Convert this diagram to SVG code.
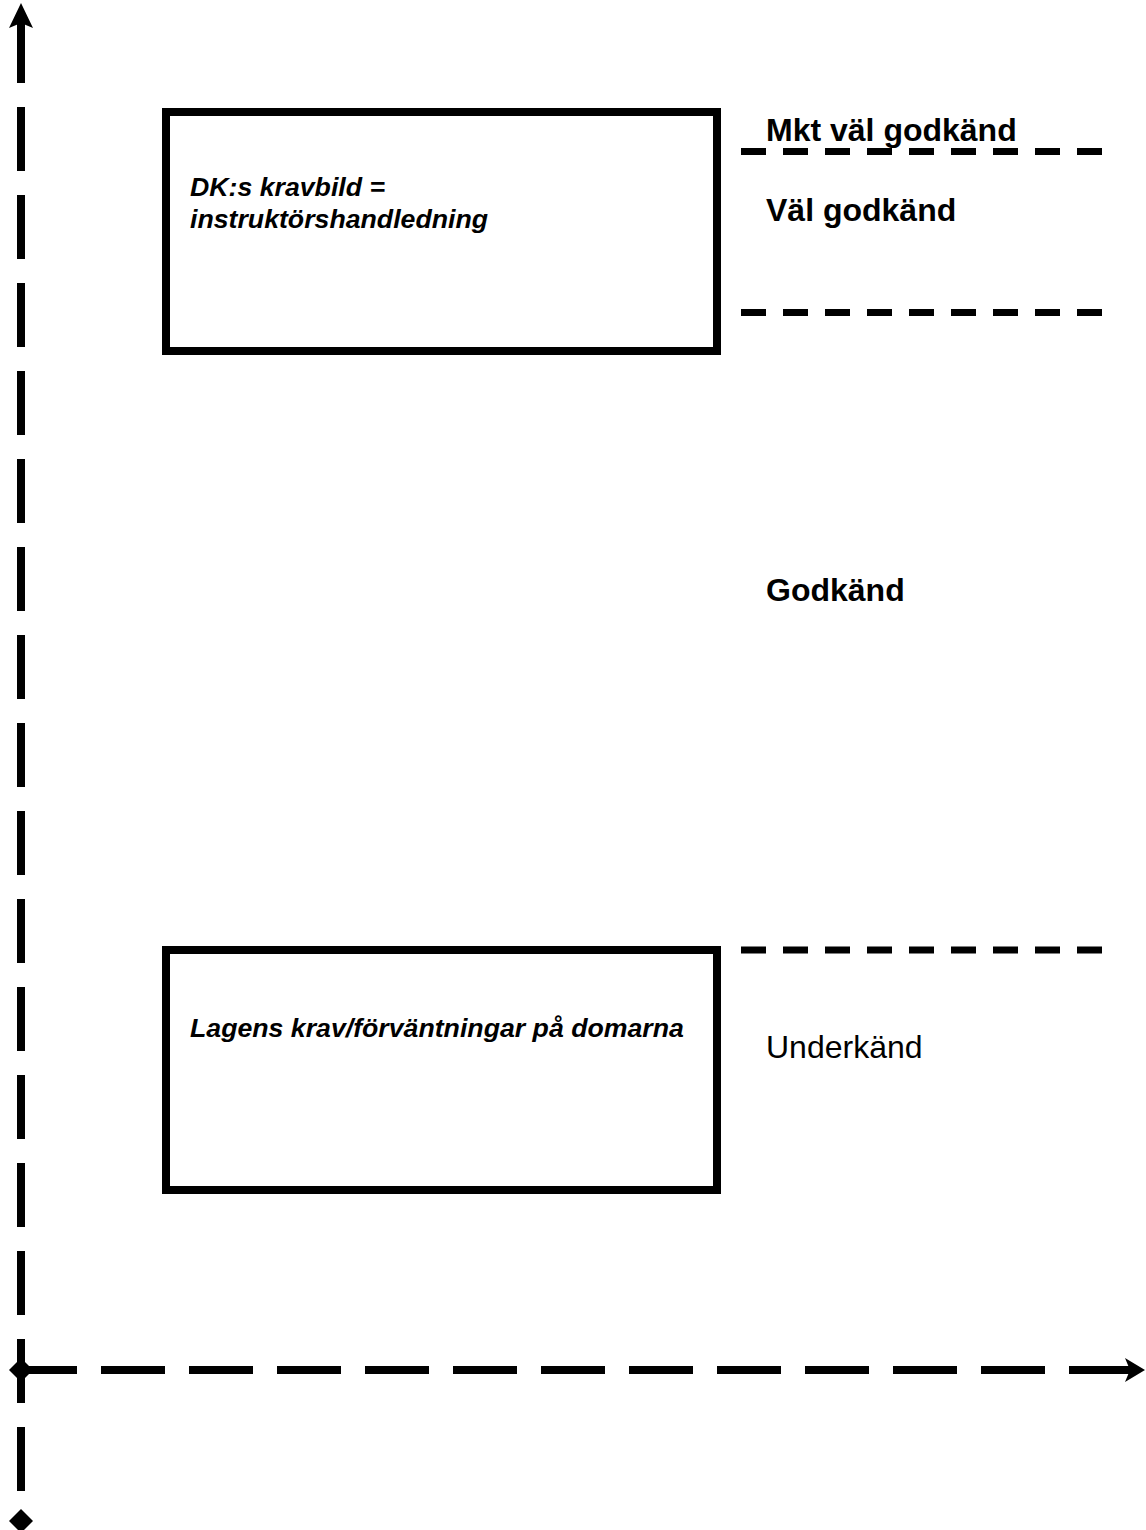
<svg xmlns="http://www.w3.org/2000/svg" width="1146" height="1530" viewBox="0 0 1146 1530">
  <style>
    .box { fill: #ffffff; stroke: #000000; stroke-width: 8; }
    .axis { fill: none; stroke: #000000; stroke-width: 8; stroke-dasharray: 64 24; }
    .level { fill: none; stroke: #000000; stroke-width: 7; stroke-dasharray: 25 17; }
    .head { fill: #000000; }
    .it { font-family: "Liberation Sans", Arial, sans-serif; font-weight: bold; font-style: italic; font-size: 26.7px; fill: #000000; }
    .lbl { font-family: "Liberation Sans", Arial, sans-serif; font-weight: bold; font-size: 32px; fill: #000000; }
    .lblr { font-family: "Liberation Sans", Arial, sans-serif; font-size: 32px; fill: #000000; }
  </style>
  <rect x="0" y="0" width="1146" height="1530" fill="#ffffff"/>
  <g id="connectors">
    <line class="axis" x1="21" y1="19" x2="21" y2="1521"/>
    <polygon class="head" points="21,3 33,28 21,23 9,28"/>
    <polygon class="head" points="21,1509 33,1521 21,1533 9,1521"/>
    <line class="axis" x1="13" y1="1370" x2="1130" y2="1370"/>
    <polygon class="head" points="1145,1370 1125,1358 1130,1370 1125,1382"/>
    <polygon class="head" points="21,1358 33,1370 21,1382 9,1370"/>
    <line class="level" x1="741" y1="151.5" x2="1102" y2="151.5"/>
    <line class="level" x1="741" y1="312.5" x2="1102" y2="312.5"/>
    <line class="level" x1="741" y1="950" x2="1102" y2="950"/>
  </g>
  <g id="box-dk">
    <rect class="box" x="166" y="112" width="551" height="239"/>
    <text class="it" x="190" y="196">DK:s kravbild =</text>
    <text class="it" x="190" y="228">instruktörshandledning</text>
  </g>
  <g id="box-lagens">
    <rect class="box" x="166" y="950" width="551" height="240"/>
    <text class="it" x="190" y="1037">Lagens krav/förväntningar på domarna</text>
  </g>
  <g id="label-mkt">
    <text class="lbl" x="766" y="141">Mkt väl godkänd</text>
  </g>
  <g id="label-val">
    <text class="lbl" x="766" y="221">Väl godkänd</text>
  </g>
  <g id="label-godkand">
    <text class="lbl" x="766" y="601">Godkänd</text>
  </g>
  <g id="label-underkand">
    <text class="lblr" x="766" y="1058">Underkänd</text>
  </g>
</svg>
